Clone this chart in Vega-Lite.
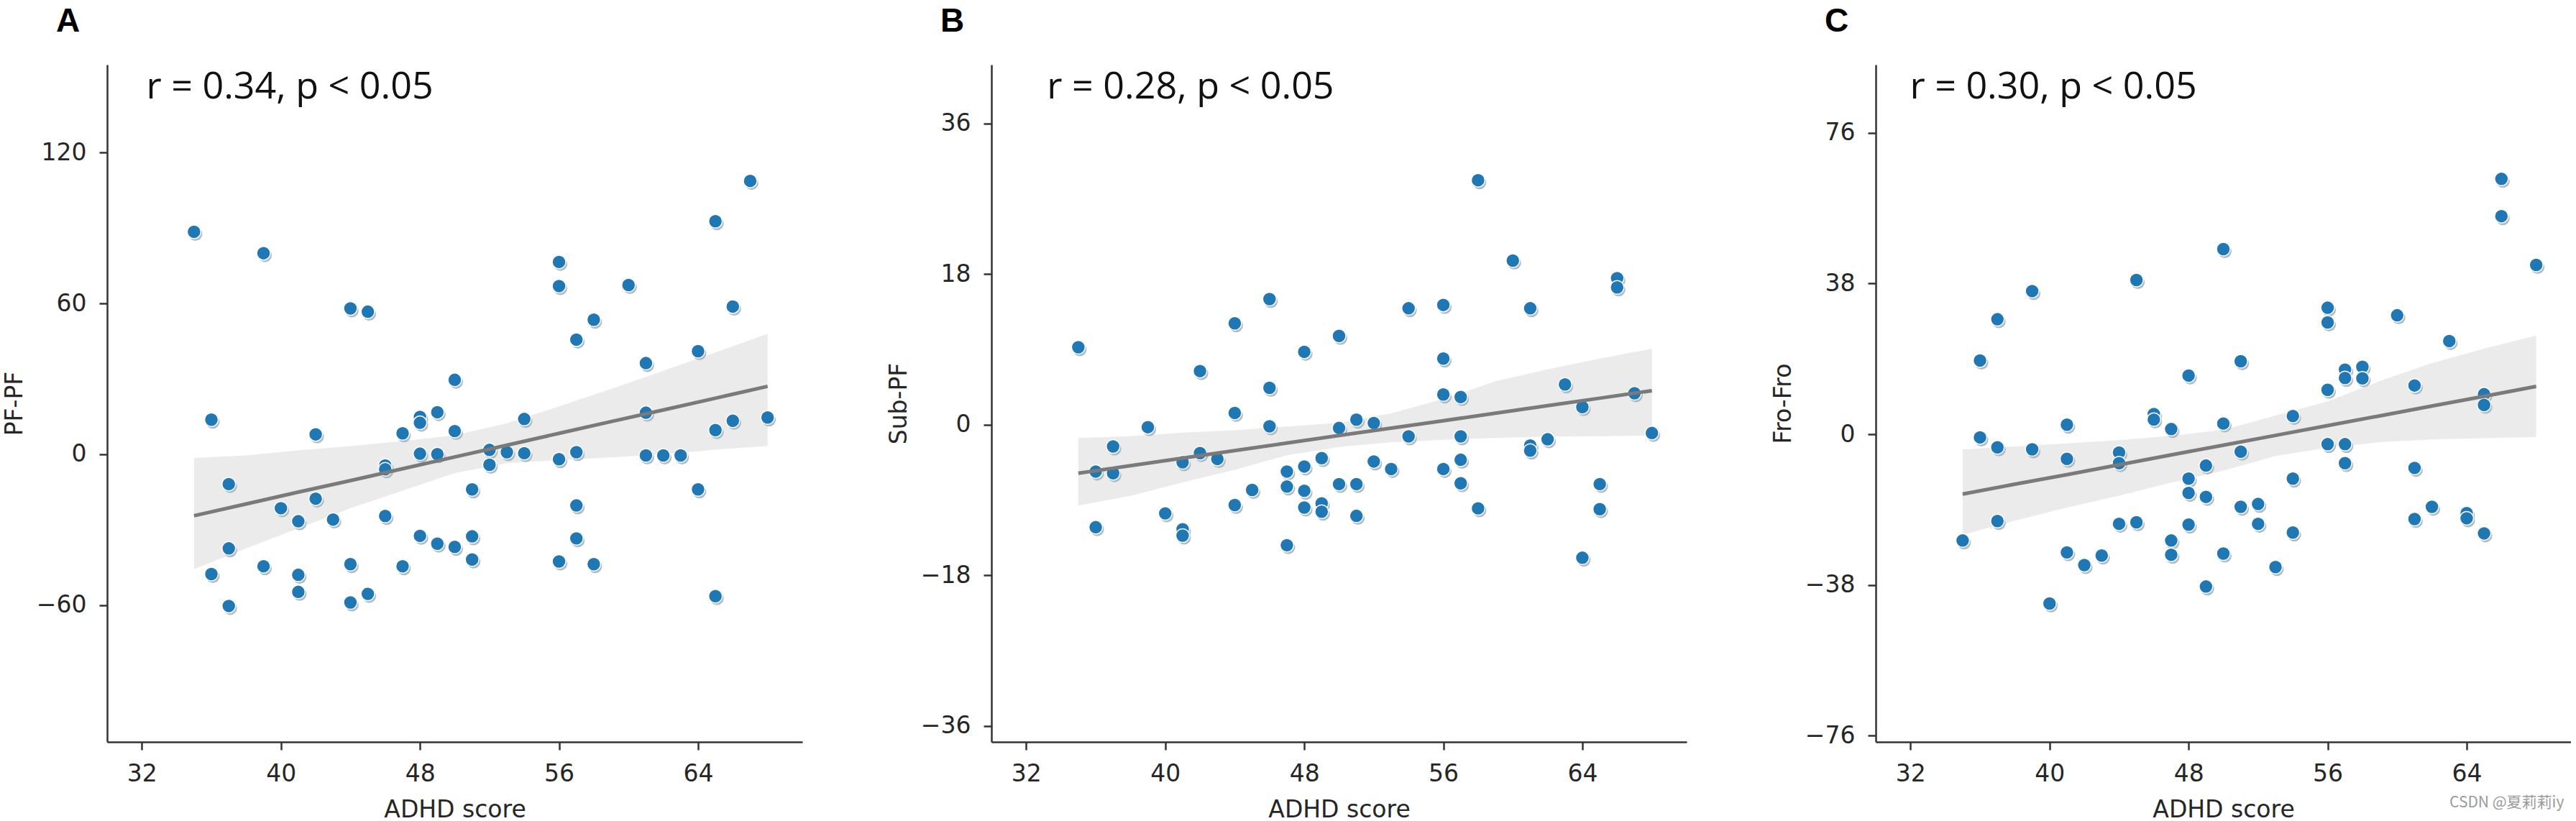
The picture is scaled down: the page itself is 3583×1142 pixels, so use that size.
{
  "$schema": "https://vega.github.io/schema/vega-lite/v6.json",
  "background": "white",
  "padding": {"left": 4, "top": 7, "right": 0, "bottom": 0},
  "bounds": "flush",
  "spacing": 263,
  "datasets": {
    "ptsA": [
      {"x":35,"y":88.5},{"x":39,"y":80},{"x":36,"y":13.75},{"x":37,"y":-11.9},{"x":37,"y":-37.5},{"x":36,"y":-47.7},{"x":37,"y":-60.4},{"x":39,"y":-44.6},{"x":40,"y":-21.5},{"x":41,"y":-26.7},{"x":41,"y":-48},{"x":41,"y":-54.8},{"x":42,"y":7.9},{"x":42,"y":-17.7},{"x":43,"y":-26},{"x":44,"y":58},{"x":45,"y":56.7},{"x":44,"y":-43.75},{"x":44,"y":-59},{"x":45,"y":-55.6},{"x":46,"y":-4.5},{"x":46,"y":-6},{"x":46,"y":-24.6},{"x":47,"y":8.3},{"x":47,"y":-44.6},{"x":48,"y":14.8},{"x":48,"y":12.5},{"x":48,"y":0.2},{"x":48,"y":-32.5},{"x":49,"y":16.7},{"x":49,"y":0},{"x":49,"y":-35.6},{"x":50,"y":29.6},{"x":50,"y":9.2},{"x":50,"y":-36.9},{"x":51,"y":-14},{"x":51,"y":-32.7},{"x":51,"y":-41.9},{"x":52,"y":1.7},{"x":52,"y":-4.2},{"x":53,"y":0.8},{"x":54,"y":14},{"x":54,"y":0.4},{"x":56,"y":76.5},{"x":56,"y":66.9},{"x":56,"y":-2},{"x":56,"y":-42.7},{"x":57,"y":45.6},{"x":57,"y":0.8},{"x":57,"y":-20.4},{"x":57,"y":-33.5},{"x":58,"y":53.5},{"x":58,"y":-43.75},{"x":60,"y":67.3},{"x":61,"y":36.25},{"x":61,"y":16.5},{"x":61,"y":-0.5},{"x":62,"y":-0.5},{"x":63,"y":-0.5},{"x":64,"y":41},{"x":64,"y":-14},{"x":65,"y":92.7},{"x":65,"y":9.6},{"x":65,"y":-56.5},{"x":66,"y":58.75},{"x":66,"y":13.3},{"x":67,"y":108.75},{"x":68,"y":14.6}
    ],
    "ptsB": [
      {"x":35,"y":9.25},{"x":36,"y":-5.6},{"x":36,"y":-12.25},{"x":37,"y":-2.6},{"x":37,"y":-5.8},{"x":39,"y":-0.3},{"x":40,"y":-10.6},{"x":41,"y":-4.5},{"x":41,"y":-12.5},{"x":41,"y":-13.25},{"x":42,"y":6.4},{"x":42,"y":-3.4},{"x":43,"y":-4.1},{"x":44,"y":12.1},{"x":44,"y":1.4},{"x":44,"y":-9.6},{"x":45,"y":-7.8},{"x":46,"y":15},{"x":46,"y":4.4},{"x":46,"y":-0.2},{"x":47,"y":-5.6},{"x":47,"y":-7.4},{"x":47,"y":-14.4},{"x":48,"y":8.7},{"x":48,"y":-5},{"x":48,"y":-7.9},{"x":48,"y":-9.9},{"x":49,"y":-4},{"x":49,"y":-9.4},{"x":49,"y":-10.4},{"x":50,"y":10.6},{"x":50,"y":-0.4},{"x":50,"y":-7.1},{"x":51,"y":0.6},{"x":51,"y":-7.1},{"x":51,"y":-10.9},{"x":52,"y":0.2},{"x":52,"y":-4.4},{"x":53,"y":-5.3},{"x":54,"y":13.9},{"x":54,"y":-1.4},{"x":56,"y":14.3},{"x":56,"y":7.9},{"x":56,"y":3.6},{"x":56,"y":-5.3},{"x":57,"y":3.3},{"x":57,"y":-1.4},{"x":57,"y":-4.2},{"x":57,"y":-7},{"x":58,"y":29.2},{"x":58,"y":-10},{"x":60,"y":19.6},{"x":61,"y":13.9},{"x":61,"y":-2.5},{"x":61,"y":-3.1},{"x":62,"y":-1.75},{"x":63,"y":4.8},{"x":64,"y":2.1},{"x":64,"y":-15.9},{"x":65,"y":-7.1},{"x":65,"y":-10.1},{"x":66,"y":17.5},{"x":66,"y":16.4},{"x":67,"y":3.75},{"x":68,"y":-1}
    ],
    "ptsC": [
      {"x":35,"y":-26.8},{"x":36,"y":-0.8},{"x":36,"y":18.6},{"x":37,"y":29},{"x":37,"y":-3.3},{"x":37,"y":-21.9},{"x":39,"y":36.1},{"x":39,"y":-3.8},{"x":40,"y":-42.7},{"x":41,"y":2.4},{"x":41,"y":-6.2},{"x":41,"y":-29.8},{"x":42,"y":-33},{"x":43,"y":-30.6},{"x":44,"y":-4.6},{"x":44,"y":-7.3},{"x":44,"y":-22.6},{"x":45,"y":38.9},{"x":45,"y":-22.2},{"x":46,"y":5.1},{"x":46,"y":3.7},{"x":47,"y":1.3},{"x":47,"y":-26.8},{"x":47,"y":-30.4},{"x":48,"y":14.8},{"x":48,"y":-11.2},{"x":48,"y":-14.8},{"x":48,"y":-22.8},{"x":49,"y":-7.9},{"x":49,"y":-15.8},{"x":49,"y":-38.4},{"x":50,"y":46.7},{"x":50,"y":2.7},{"x":50,"y":-30.1},{"x":51,"y":18.4},{"x":51,"y":-4.4},{"x":51,"y":-18.3},{"x":52,"y":-17.6},{"x":52,"y":-22.6},{"x":53,"y":-33.5},{"x":54,"y":4.6},{"x":54,"y":-11.2},{"x":54,"y":-24.8},{"x":56,"y":31.9},{"x":56,"y":28.2},{"x":56,"y":11.2},{"x":56,"y":-2.5},{"x":57,"y":16.3},{"x":57,"y":14.2},{"x":57,"y":-2.5},{"x":57,"y":-7.3},{"x":58,"y":17},{"x":58,"y":14.1},{"x":60,"y":30},{"x":61,"y":12.3},{"x":61,"y":-8.5},{"x":61,"y":-21.4},{"x":62,"y":-18.3},{"x":63,"y":23.5},{"x":64,"y":-19.9},{"x":64,"y":-21.2},{"x":65,"y":10.1},{"x":65,"y":7.4},{"x":65,"y":-25},{"x":66,"y":64.4},{"x":66,"y":55},{"x":68,"y":42.7}
    ],
    "bandA": [
      {"x":35,"lo":-45.8,"hi":-1.5,"fit":-24.5},{"x":38,"lo":-37.5,"hi":-0.5,"fit":-19.8},{"x":41,"lo":-29.5,"hi":1.5,"fit":-15.1},{"x":44,"lo":-21.5,"hi":3.2,"fit":-10.5},{"x":47,"lo":-14.5,"hi":5.2,"fit":-5.8},{"x":50,"lo":-7.5,"hi":7.5,"fit":-1.1},{"x":53,"lo":-3.6,"hi":12.3,"fit":3.6},{"x":56,"lo":-2.3,"hi":19,"fit":8.3},{"x":59,"lo":-1.3,"hi":26,"fit":13},{"x":62,"lo":0,"hi":33.2,"fit":17.6},{"x":65,"lo":1.8,"hi":40.5,"fit":22.3},{"x":68,"lo":3.3,"hi":47.9,"fit":27}
    ],
    "bandB": [
      {"x":35,"lo":-9.66,"hi":-1.6,"fit":-5.8},{"x":38,"lo":-8.5,"hi":-1.37,"fit":-4.9},{"x":41,"lo":-6.9,"hi":-0.94,"fit":-4.0},{"x":44,"lo":-5.4,"hi":-0.66,"fit":-3.1},{"x":47,"lo":-3.66,"hi":-0.23,"fit":-2.2},{"x":50,"lo":-2.66,"hi":0.2,"fit":-1.3},{"x":53,"lo":-2.1,"hi":1.34,"fit":-0.42},{"x":56,"lo":-1.8,"hi":3.06,"fit":0.47},{"x":59,"lo":-1.6,"hi":5.2,"fit":1.37},{"x":62,"lo":-1.43,"hi":6.6,"fit":2.27},{"x":65,"lo":-1.37,"hi":7.9,"fit":3.16},{"x":68,"lo":-1.3,"hi":9.06,"fit":4.06}
    ],
    "bandC": [
      {"x":35,"lo":-25.4,"hi":-3.86,"fit":-15.1},{"x":38,"lo":-21.8,"hi":-3.07,"fit":-12.6},{"x":41,"lo":-18.5,"hi":-2.3,"fit":-10.2},{"x":44,"lo":-15.5,"hi":-1.5,"fit":-7.7},{"x":47,"lo":-12.2,"hi":-0.4,"fit":-5.2},{"x":50,"lo":-9.2,"hi":1.1,"fit":-2.76},{"x":53,"lo":-5.5,"hi":4.7,"fit":-0.29},{"x":56,"lo":-3.4,"hi":8.3,"fit":2.18},{"x":59,"lo":-2.0,"hi":13.4,"fit":4.64},{"x":62,"lo":-1.3,"hi":17.95,"fit":7.11},{"x":65,"lo":-1.0,"hi":21.6,"fit":9.58},{"x":68,"lo":-0.7,"hi":24.9,"fit":12.05}
    ]
  },
  "hconcat": [
    {
      "width": 967, "height": 942,
      "title": {"text": "A"},
      "encoding": {
        "x": {"field": "x", "type": "quantitative", "title": "ADHD score", "scale": {"domain": [30, 70], "nice": false, "zero": false}, "axis": {"values": [32, 40, 48, 56, 64]}}
      },
      "layer": [
        {"data": {"name": "bandA"}, "mark": {"type": "area", "color": "#ebebeb"},
         "encoding": {
           "y": {"field": "lo", "type": "quantitative", "title": "PF-PF", "scale": {"domain": [-114.5, 155], "nice": false, "zero": false}, "axis": {"values": [-60, 0, 60, 120]}},
           "y2": {"field": "hi"}}},
        {"data": {"name": "ptsA"}, "mark": {"type": "circle", "color": "#aab5c0", "opacity": 0.9, "size": 360, "xOffset": 2, "yOffset": 3},
         "encoding": {"y": {"field": "y", "type": "quantitative", "title": "PF-PF"}}},
        {"data": {"name": "ptsA"}, "mark": {"type": "circle", "color": "#1f77b4", "opacity": 1, "size": 360, "stroke": "white", "strokeWidth": 1.5},
         "encoding": {"y": {"field": "y", "type": "quantitative", "title": "PF-PF"}}},
        {"data": {"name": "bandA"}, "mark": {"type": "line", "color": "#7a7a7a", "strokeWidth": 5},
         "encoding": {"y": {"field": "fit", "type": "quantitative", "title": "PF-PF"}}},
        {"data": {"values": [{"x": 32.25, "y": 141.6, "label": "r = 0.34, p < 0.05"}]},
         "mark": {"type": "text", "align": "left", "baseline": "alphabetic", "font": "Open Sans", "fontSize": 52, "color": "#111111"},
         "encoding": {"y": {"field": "y", "type": "quantitative", "title": "PF-PF"}, "text": {"field": "label"}}}
      ]
    },
    {
      "width": 967, "height": 942,
      "title": {"text": "B"},
      "encoding": {
        "x": {"field": "x", "type": "quantitative", "title": "ADHD score", "scale": {"domain": [30, 70], "nice": false, "zero": false}, "axis": {"values": [32, 40, 48, 56, 64]}}
      },
      "layer": [
        {"data": {"name": "bandB"}, "mark": {"type": "area", "color": "#ebebeb"},
         "encoding": {
           "y": {"field": "lo", "type": "quantitative", "title": "Sub-PF", "scale": {"domain": [-37.9, 43], "nice": false, "zero": false}, "axis": {"values": [-36, -18, 0, 18, 36]}},
           "y2": {"field": "hi"}}},
        {"data": {"name": "ptsB"}, "mark": {"type": "circle", "color": "#aab5c0", "opacity": 0.9, "size": 360, "xOffset": 2, "yOffset": 3},
         "encoding": {"y": {"field": "y", "type": "quantitative", "title": "Sub-PF"}}},
        {"data": {"name": "ptsB"}, "mark": {"type": "circle", "color": "#1f77b4", "opacity": 1, "size": 360, "stroke": "white", "strokeWidth": 1.5},
         "encoding": {"y": {"field": "y", "type": "quantitative", "title": "Sub-PF"}}},
        {"data": {"name": "bandB"}, "mark": {"type": "line", "color": "#7a7a7a", "strokeWidth": 5},
         "encoding": {"y": {"field": "fit", "type": "quantitative", "title": "Sub-PF"}}},
        {"data": {"values": [{"x": 33.2, "y": 38.96, "label": "r = 0.28, p < 0.05"}]},
         "mark": {"type": "text", "align": "left", "baseline": "alphabetic", "font": "Open Sans", "fontSize": 52, "color": "#111111"},
         "encoding": {"y": {"field": "y", "type": "quantitative", "title": "Sub-PF"}, "text": {"field": "label"}}}
      ]
    },
    {
      "width": 967, "height": 942,
      "title": {"text": "C"},
      "encoding": {
        "x": {"field": "x", "type": "quantitative", "title": "ADHD score", "scale": {"domain": [30, 70], "nice": false, "zero": false}, "axis": {"values": [32, 40, 48, 56, 64]}}
      },
      "layer": [
        {"data": {"name": "bandC"}, "mark": {"type": "area", "color": "#ebebeb"},
         "encoding": {
           "y": {"field": "lo", "type": "quantitative", "title": "Fro-Fro", "scale": {"domain": [-77.6, 93.2], "nice": false, "zero": false}, "axis": {"values": [-76, -38, 0, 38, 76]}},
           "y2": {"field": "hi"}}},
        {"data": {"name": "ptsC"}, "mark": {"type": "circle", "color": "#aab5c0", "opacity": 0.9, "size": 360, "xOffset": 2, "yOffset": 3},
         "encoding": {"y": {"field": "y", "type": "quantitative", "title": "Fro-Fro"}}},
        {"data": {"name": "ptsC"}, "mark": {"type": "circle", "color": "#1f77b4", "opacity": 1, "size": 360, "stroke": "white", "strokeWidth": 1.5},
         "encoding": {"y": {"field": "y", "type": "quantitative", "title": "Fro-Fro"}}},
        {"data": {"name": "bandC"}, "mark": {"type": "line", "color": "#7a7a7a", "strokeWidth": 5},
         "encoding": {"y": {"field": "fit", "type": "quantitative", "title": "Fro-Fro"}}},
        {"data": {"values": [{"x": 31.96, "y": 84.7, "label": "r = 0.30, p < 0.05"}]},
         "mark": {"type": "text", "align": "left", "baseline": "alphabetic", "font": "Open Sans", "fontSize": 52, "color": "#111111"},
         "encoding": {"y": {"field": "y", "type": "quantitative", "title": "Fro-Fro"}, "text": {"field": "label"}}},
        {"data": {"values": [{"x": 69.6, "y": -93, "label": "CSDN @夏莉莉iy"}]},
         "mark": {"type": "text", "align": "right", "baseline": "middle", "font": "Noto Sans CJK SC", "fontSize": 21, "color": "#9a9a9a"},
         "encoding": {"y": {"field": "y", "type": "quantitative", "title": "Fro-Fro"}, "text": {"field": "label"}}}
      ]
    }
  ],
  "config": {
    "view": {"stroke": null},
    "axis": {"grid": false, "domainColor": "#333333", "domainWidth": 2.5, "tickColor": "#333333", "tickWidth": 2.5, "tickSize": 11,
             "labelFont": "DejaVu Sans", "labelFontSize": 33, "labelColor": "#262626",
             "titleFont": "DejaVu Sans", "titleFontSize": 33, "titleFontWeight": "normal", "titleColor": "#262626"},
    "axisX": {"labelPadding": 17, "titlePadding": 17},
    "axisY": {"labelPadding": 18, "titlePadding": 13},
    "title": {"anchor": "start", "frame": "group", "dx": -71, "offset": 36, "baseline": "alphabetic", "fontSize": 46, "fontWeight": "bold", "font": "Liberation Sans", "color": "#000000"}
  }
}
